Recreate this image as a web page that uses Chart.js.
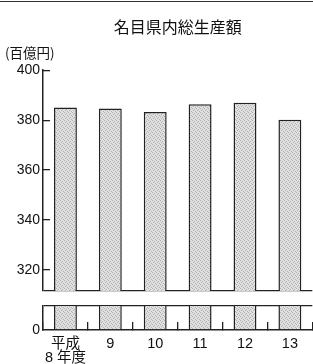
<!DOCTYPE html>
<html><head><meta charset="utf-8">
<script src="https://cdn.jsdelivr.net/npm/chart.js@4.4.1/dist/chart.umd.min.js"></script>
<style>
html,body{margin:0;padding:0;background:#fff;overflow:hidden;}
#wrap{position:relative;width:313px;height:364px;overflow:hidden;}
#rule{position:absolute;left:0;top:1px;width:313px;height:0;border-top:1.5px solid #333;}
canvas{position:absolute;left:0;top:0;}
</style></head><body>
<div id="wrap"><div id="rule"></div><canvas id="c" width="313" height="364"></canvas></div>
<script>
// ---- data ----
const categories = [["平成", "8 年度"], "9", "10", "11", "12", "13"];
const values = [385.1, 384.7, 383.3, 386.4, 387.0, 380.2];
const topTicks = [320, 340, 360, 380, 400];
const bottomTicks = [0];
const topMin = 311.6, topMax = 400;
const bottomMin = 0, bottomMax = 10;
const titleText = "名目県内総生産額";
const unitText = "(百億円)";

// ---- style ----
const ink = '#222';
const clear = 'rgba(0,0,0,0)';
const numFont = "'Liberation Sans', 'Noto Sans CJK JP', sans-serif";
const cjkFont = "'Noto Sans CJK JP', 'Liberation Sans', sans-serif";

function stipple() {
  const p = document.createElement('canvas');
  p.width = 4; p.height = 4;
  const g = p.getContext('2d');
  g.fillStyle = '#e0e0e0'; g.fillRect(0, 0, 4, 4);
  g.fillStyle = '#b0b0b0';
  [[0,0],[2,1],[1,2],[3,3]].forEach(([a,b]) => g.fillRect(a, b, 1, 1));
  return g.createPattern(p, 'repeat');
}
const fill = stipple();

const panelClip = {
  id: 'panelClip',
  beforeDatasetDraw(chart, args) {
    const ys = args.meta.yScale, ca = chart.chartArea, ctx = chart.ctx;
    ctx.save();
    ctx.beginPath();
    ctx.rect(ca.left, ys.top, ca.right - ca.left, ys.bottom - ys.top);
    ctx.clip();
  },
  afterDatasetDraw(chart) { chart.ctx.restore(); }
};

const barStyle = {
  backgroundColor: fill,
  borderColor: ink,
  borderWidth: 1.5,
  borderSkipped: 'start',
  barPercentage: 0.51,
  categoryPercentage: 1,
  grouped: false
};

function yAxis(min, max, ticks, weight, hideValue) {
  return {
    type: 'linear', position: 'left', stack: 'v', stackWeight: weight,
    min: min, max: max,
    afterBuildTicks(s) { s.ticks = [min, ...ticks, max].filter((v, i, a) => a.indexOf(v) === i).sort((a,b)=>a-b).map(v => ({value: v})); },
    afterFit(s) { s.width = 38; },
    ticks: {
      autoSkip: false, padding: 10, color: '#111',
      font: {family: numFont, size: 14},
      callback: v => ticks.includes(v) ? String(v) : ''
    },
    grid: {
      drawOnChartArea: true, tickLength: -7, lineWidth: 1.3,
      color: c => (c.tick && c.tick.value === hideValue) ? ink : clear,
      tickColor: c => (c.tick && ticks.includes(c.tick.value) && c.tick.value !== 0) ? ink : clear
    },
    border: {display: true, color: ink, width: 1.5}
  };
}

new Chart(document.getElementById('c'), {
  type: 'bar',
  data: {
    labels: categories,
    datasets: [
      Object.assign({data: values, yAxisID: 'yTop'}, barStyle),
      Object.assign({data: values, yAxisID: 'yBot'}, barStyle)
    ]
  },
  options: {
    responsive: false, animation: false, devicePixelRatio: 1,
    layout: {padding: {left: 5, right: 0, top: 0, bottom: 0}},
    plugins: {
      legend: {display: false}, tooltip: {enabled: false},
      title: {display: true, text: titleText, fullSize: false, color: '#111',
        font: {family: cjkFont, size: 16, weight: 'normal', lineHeight: 1.2},
        padding: {top: 17, bottom: 5}},
      subtitle: {display: true, text: unitText, align: 'start', color: '#111',
        font: {family: cjkFont, size: 13.5, weight: 'normal', lineHeight: '15px'},
        padding: {top: 4, bottom: 10}}
    },
    scales: {
      x: {
        type: 'category', offset: true,
        grid: {display: true, offset: true, drawOnChartArea: false, tickLength: -8, color: ink, tickColor: ink, lineWidth: 1.3},
        border: {display: true, color: ink, width: 1.5},
        ticks: {padding: 15, color: '#111', maxRotation: 0, autoSkip: false,
          font: {family: numFont, size: 14.5, lineHeight: '14px'}},
        afterFit(s) { s.height = 34; }
      },
      yBot: yAxis(bottomMin, bottomMax, bottomTicks, 24, bottomMax),
      yGap: {type: 'linear', position: 'left', stack: 'v', stackWeight: 15, min: 0, max: 1,
        ticks: {display: false}, grid: {display: false}, border: {display: false},
        afterFit(s) { s.width = 38; }},
      yTop: yAxis(topMin, topMax, topTicks, 221, topMin)
    }
  },
  plugins: [panelClip]
});
</script>
</body></html>
